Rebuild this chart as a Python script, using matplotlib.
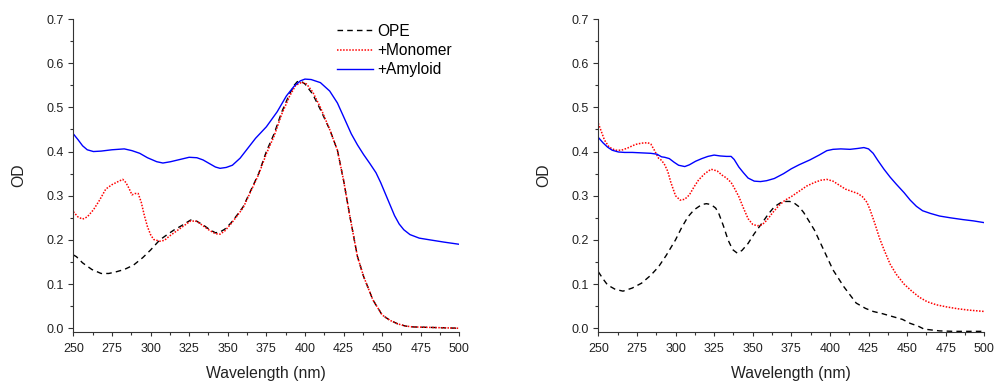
import numpy as np
import matplotlib
matplotlib.use('Agg')
import matplotlib.pyplot as plt
from matplotlib.ticker import MultipleLocator

plt.rcParams['font.family'] = ['Liberation Sans', 'DejaVu Sans']

# left panel
wl_ope_a = [250, 252, 256, 262, 268, 273, 278, 283, 289, 295, 300, 306, 310, 315, 320, 326,
            330, 334, 338, 342, 345, 348, 352, 356, 360, 364, 370, 375, 380, 385, 390, 393,
            395, 397, 400, 405, 410, 416, 421, 425, 429, 434, 438, 444, 450, 455, 460, 465,
            470, 480, 490, 500]
ope_a = [0.166, 0.162, 0.148, 0.133, 0.124, 0.124, 0.128, 0.133, 0.143, 0.16, 0.177, 0.2, 0.21,
         0.222, 0.232, 0.245, 0.242, 0.234, 0.224, 0.216, 0.218, 0.224, 0.238, 0.256, 0.275,
         0.305, 0.35, 0.40, 0.44, 0.49, 0.53, 0.55, 0.558, 0.56, 0.553, 0.53, 0.495, 0.45,
         0.403, 0.335, 0.255, 0.162, 0.117, 0.064, 0.03, 0.018, 0.01, 0.005, 0.003, 0.002,
         0.001, 0.0]

wl_mono_a = [250, 253, 256, 259, 263, 267, 271, 275, 279, 282, 284, 286, 288, 290, 292, 294,
             296, 298, 300, 302, 306, 309, 312, 316, 320, 326, 330, 334, 338, 342, 345, 348,
             352, 356, 360, 364, 370, 375, 380, 385, 390, 394, 398, 401, 405, 410, 416, 421,
             425, 429, 434, 438, 444, 450, 455, 460, 465, 470, 480, 490, 500]
mono_a = [0.264, 0.252, 0.247, 0.252, 0.268, 0.29, 0.315, 0.325, 0.332, 0.337, 0.33, 0.317,
          0.302, 0.305, 0.305, 0.285, 0.255, 0.23, 0.212, 0.201, 0.197, 0.199, 0.208, 0.218,
          0.228, 0.243, 0.242, 0.232, 0.222, 0.214, 0.213, 0.22, 0.236, 0.254, 0.273, 0.303,
          0.348, 0.395, 0.435, 0.485, 0.525, 0.55, 0.557, 0.553, 0.535, 0.50, 0.45, 0.403,
          0.335, 0.255, 0.162, 0.117, 0.064, 0.03, 0.018, 0.01, 0.005, 0.003, 0.002, 0.001, 0.0]

wl_amy_a = [250, 253, 256, 259, 263, 268, 275, 283, 288, 293, 298, 304, 308, 313, 319, 325,
            330, 334, 338, 342, 345, 349, 353, 358, 362, 368, 375, 382, 388, 393, 397, 400,
            404, 410, 416, 421, 425, 430, 434, 438, 442, 446, 449, 452, 455, 458, 461, 464,
            468, 474, 481, 490, 500]
amy_a = [0.44, 0.427, 0.413, 0.404, 0.40, 0.401, 0.404, 0.406, 0.402, 0.396, 0.386, 0.377,
         0.374, 0.377, 0.382, 0.387, 0.386, 0.381, 0.373, 0.365, 0.362, 0.364, 0.369, 0.385,
         0.403, 0.43, 0.456, 0.49, 0.526, 0.548, 0.56, 0.564, 0.563, 0.556, 0.537, 0.51, 0.479,
         0.44, 0.415, 0.393, 0.373, 0.352, 0.33, 0.305, 0.28, 0.255, 0.236, 0.223, 0.212, 0.204,
         0.2, 0.195, 0.19]

# right panel
wl_ope_b = [250, 253, 256, 261, 266, 272, 278, 284, 289, 294, 300, 304, 308, 312, 317, 320,
            323, 326, 328, 331, 334, 337, 340, 343, 347, 351, 356, 360, 364, 368, 371, 374,
            377, 380, 383, 386, 390, 396, 402, 409, 417, 423, 428, 434, 441, 447, 452, 457,
            461, 466, 471, 480, 490, 500]
ope_b = [0.128, 0.112, 0.098, 0.088, 0.084, 0.091, 0.102, 0.12, 0.139, 0.165, 0.2, 0.228, 0.252,
         0.268, 0.28, 0.282, 0.28, 0.272, 0.26, 0.232, 0.2, 0.178, 0.17, 0.176, 0.192, 0.214,
         0.238, 0.258, 0.275, 0.284, 0.287, 0.287, 0.283, 0.275, 0.262, 0.245, 0.222, 0.177,
         0.132, 0.094, 0.057, 0.045, 0.038, 0.033, 0.026, 0.02, 0.011, 0.005, -0.002, -0.004,
         -0.006, -0.007, -0.007, -0.007]

wl_mono_b = [250, 252, 254, 257, 261, 265, 269, 274, 278, 282, 284, 286, 289, 291, 293, 295,
             297, 300, 303, 306, 309, 312, 315, 319, 323, 327, 330, 333, 336, 338, 341, 344,
             347, 350, 353, 356, 359, 363, 367, 371, 375, 380, 385, 390, 394, 398, 402, 406,
             410, 414, 418, 421, 424, 426, 429, 432, 435, 439, 443, 448, 453, 458, 463, 469,
             476, 483, 490, 500]
mono_b = [0.464, 0.445, 0.426, 0.41, 0.403, 0.403, 0.408, 0.416, 0.419, 0.42, 0.417, 0.405,
          0.385, 0.38, 0.37, 0.355, 0.33, 0.3, 0.29, 0.292, 0.302, 0.32, 0.336, 0.35, 0.36,
          0.356, 0.347, 0.34, 0.33, 0.318, 0.298, 0.272, 0.248, 0.235, 0.232, 0.234, 0.244,
          0.262, 0.278, 0.29, 0.298, 0.31, 0.322, 0.33, 0.335, 0.337, 0.333, 0.324, 0.315,
          0.31, 0.305, 0.298, 0.285, 0.268, 0.238, 0.205, 0.178, 0.145, 0.122, 0.1, 0.084, 0.07,
          0.06, 0.053, 0.048, 0.044, 0.041, 0.038]

wl_amy_b = [250, 253, 256, 259, 263, 267, 272, 278, 284, 288, 291, 293, 296, 299, 302, 306,
            309, 313, 317, 321, 325, 329, 333, 336, 338, 341, 344, 347, 351, 355, 359, 364,
            370, 375, 380, 387, 393, 398, 402, 407, 413, 418, 422, 425, 428, 431, 435, 439,
            443, 448, 452, 456, 460, 465, 471, 478, 486, 493, 500]
amy_b = [0.432, 0.42, 0.41, 0.403, 0.399, 0.398, 0.398, 0.397, 0.396, 0.394, 0.388, 0.387,
         0.384, 0.376, 0.369, 0.366, 0.37, 0.378, 0.384, 0.389, 0.392, 0.39, 0.389, 0.389,
         0.382, 0.365, 0.352, 0.34, 0.333, 0.332, 0.334, 0.339, 0.35, 0.361, 0.37, 0.381, 0.392,
         0.402, 0.405, 0.406, 0.405, 0.407, 0.409, 0.406, 0.396, 0.38, 0.36, 0.342, 0.326,
         0.307, 0.29, 0.276, 0.266, 0.26, 0.254, 0.25, 0.246, 0.243, 0.239]

fig = plt.figure(figsize=(9.95, 3.81), dpi=100)
ax1 = fig.add_axes([0.0737, 0.1286, 0.388, 0.8215])
ax2 = fig.add_axes([0.6013, 0.1286, 0.388, 0.8215])

panels = [(ax1, wl_ope_a, ope_a, wl_mono_a, mono_a, wl_amy_a, amy_a),
          (ax2, wl_ope_b, ope_b, wl_mono_b, mono_b, wl_amy_b, amy_b)]

for ax, x1, y1, x2, y2, x3, y3 in panels:
    ax.plot(x1, y1, color='black', lw=1.0, ls=(0, (4, 3)), label='OPE')
    ax.plot(x2, y2, color='red', lw=1.1, ls=(0, (1, 1)), label='+Monomer')
    ax.plot(x3, y3, color='blue', lw=1.0, ls='-', label='+Amyloid')
    ax.set_xlim(250, 500)
    ax.set_ylim(-0.0085, 0.7)
    ax.xaxis.set_major_locator(MultipleLocator(25))
    ax.xaxis.set_minor_locator(MultipleLocator(12.5))
    ax.yaxis.set_major_locator(MultipleLocator(0.1))
    ax.yaxis.set_minor_locator(MultipleLocator(0.05))
    ax.yaxis.set_major_formatter(plt.FormatStrFormatter('%.1f'))
    ax.spines['top'].set_visible(False)
    ax.spines['right'].set_visible(False)
    for s in ('left', 'bottom'):
        ax.spines[s].set_color('#333333')
    ax.tick_params(which='major', direction='out', width=0.8,
                   labelsize=9, labelcolor='#222222', color='#333333')
    ax.tick_params(axis='x', which='major', length=3, pad=5)
    ax.tick_params(axis='y', which='major', length=3.6, pad=3)
    ax.tick_params(which='minor', direction='out', length=2, width=0.8, color='#333333')
    ax.set_xlabel('Wavelength (nm)', fontsize=11.3, labelpad=8, color='#222222')
    ax.set_ylabel('OD', fontsize=11.3, labelpad=15, color='#222222')

ax1.legend(loc='upper left', bbox_to_anchor=(0.683, 0.985), frameon=False, fontsize=11.2,
           handlelength=2.3, handletextpad=0.3, labelspacing=0.28, borderaxespad=0,
           borderpad=0)

fig.savefig('out.png', dpi=100)
